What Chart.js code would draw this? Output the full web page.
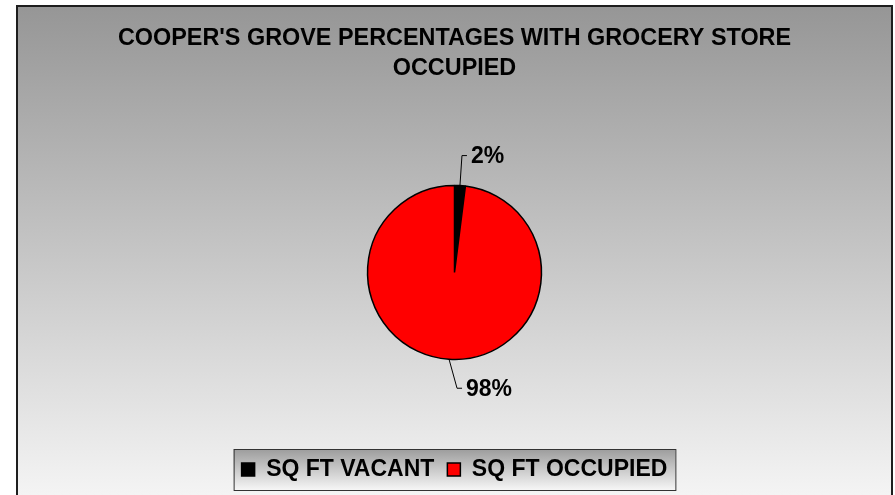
<!DOCTYPE html>
<html>
<head>
<meta charset="utf-8">
<script src="https://cdn.jsdelivr.net/npm/chart.js@4"></script>
<style>
    body { margin: 0; background: #ffffff; }
    canvas { display: block; }
</style>
</head>
<body>
<canvas id="pieChart" width="895" height="495"></canvas>
<script>
const categories = ['SQ FT VACANT', 'SQ FT OCCUPIED'];
const percentages = [2, 98];
const sliceColors = ['#000000', '#ff0000'];
const titleLines = ["COOPER'S GROVE PERCENTAGES WITH GROCERY STORE", 'OCCUPIED'];

const fontFamily = '"Liberation Sans", Arial, sans-serif';

// gray-to-white panel behind everything, plus the box around the legend
const backgroundPlugin = {
    id: 'panelBackground',
    beforeDraw(chart) {
        const ctx = chart.ctx;
        ctx.save();
        ctx.fillStyle = '#ffffff';
        ctx.fillRect(0, 0, chart.width, chart.height);

        const grad = ctx.createLinearGradient(0, 6, 0, 495);
        grad.addColorStop(0, '#969696');
        grad.addColorStop(1, '#f4f4f4');
        ctx.fillStyle = grad;
        ctx.fillRect(17, 6, 875, 500);
        ctx.strokeStyle = '#1e1e1e';
        ctx.lineWidth = 2;
        ctx.strokeRect(17, 6, 875, 500);

        const boxes = chart.legend.legendHitBoxes;
        if (boxes && boxes.length) {
            const first = boxes[0];
            const last = boxes[boxes.length - 1];
            const left = first.left - 8;
            const right = last.left + last.width + 8;
            const top = first.top - 9;
            const bottom = first.top + first.height + 9;
            const lg = ctx.createLinearGradient(0, top, 0, bottom);
            lg.addColorStop(0, '#9c9c9c');
            lg.addColorStop(1, '#f6f6f6');
            ctx.fillStyle = lg;
            ctx.fillRect(left, top, right - left, bottom - top);
            ctx.strokeStyle = '#333333';
            ctx.lineWidth = 1;
            ctx.strokeRect(left + 0.5, top + 0.5, right - left, bottom - top);
        }
        ctx.restore();
    }
};

// percentage labels with elbow leader lines
const leaderLabelPlugin = {
    id: 'leaderLabels',
    afterDatasetsDraw(chart, args, opts) {
        const ctx = chart.ctx;
        const arcs = chart.getDatasetMeta(0).data;
        ctx.save();
        ctx.strokeStyle = '#000000';
        ctx.lineWidth = 1;
        ctx.fillStyle = '#000000';
        ctx.font = 'bold 23px ' + fontFamily;
        ctx.textBaseline = 'middle';
        ctx.textAlign = 'left';
        arcs.forEach((arc, i) => {
            const p = arc.getProps(['x', 'y', 'startAngle', 'endAngle', 'outerRadius'], true);
            const mid = (p.startAngle + p.endAngle) / 2;
            const ex = p.x + Math.cos(mid) * p.outerRadius;
            const ey = p.y + Math.sin(mid) * p.outerRadius;
            const off = opts.offsets[i];
            const bx = ex + off.dx;
            const by = ey + off.dy;
            ctx.beginPath();
            ctx.moveTo(ex, ey);
            ctx.lineTo(bx, by);
            ctx.lineTo(bx + 5, by);
            ctx.stroke();
            ctx.fillText(percentages[i] + '%', bx + 9, by + 1);
        });
        ctx.restore();
    }
};

const ctx = document.getElementById('pieChart').getContext('2d');
window.pieChart = new Chart(ctx, {
    type: 'pie',
    data: {
        labels: categories,
        datasets: [{
            data: percentages,
            backgroundColor: sliceColors,
            borderColor: '#000000',
            borderWidth: 1.5
        }]
    },
    options: {
        responsive: false,
        animation: false,
        radius: 87,
        layout: { padding: { left: 17, right: 3, top: 0, bottom: 4 } },
        plugins: {
            title: {
                display: true,
                text: titleLines,
                color: '#000000',
                font: { family: fontFamily, size: 23.4, weight: 'bold', lineHeight: 1.3 },
                padding: { top: 23, bottom: 16 }
            },
            legend: {
                position: 'bottom',
                labels: {
                    color: '#000000',
                    font: { family: fontFamily, size: 23, weight: 'bold' },
                    boxWidth: 13,
                    boxHeight: 13,
                    padding: 13
                }
            },
            tooltip: { enabled: false },
            leaderLabels: {
                offsets: [{ dx: 2, dy: -30 }, { dx: 8, dy: 29 }]
            }
        }
    },
    plugins: [backgroundPlugin, leaderLabelPlugin]
});
</script>
</body>
</html>
